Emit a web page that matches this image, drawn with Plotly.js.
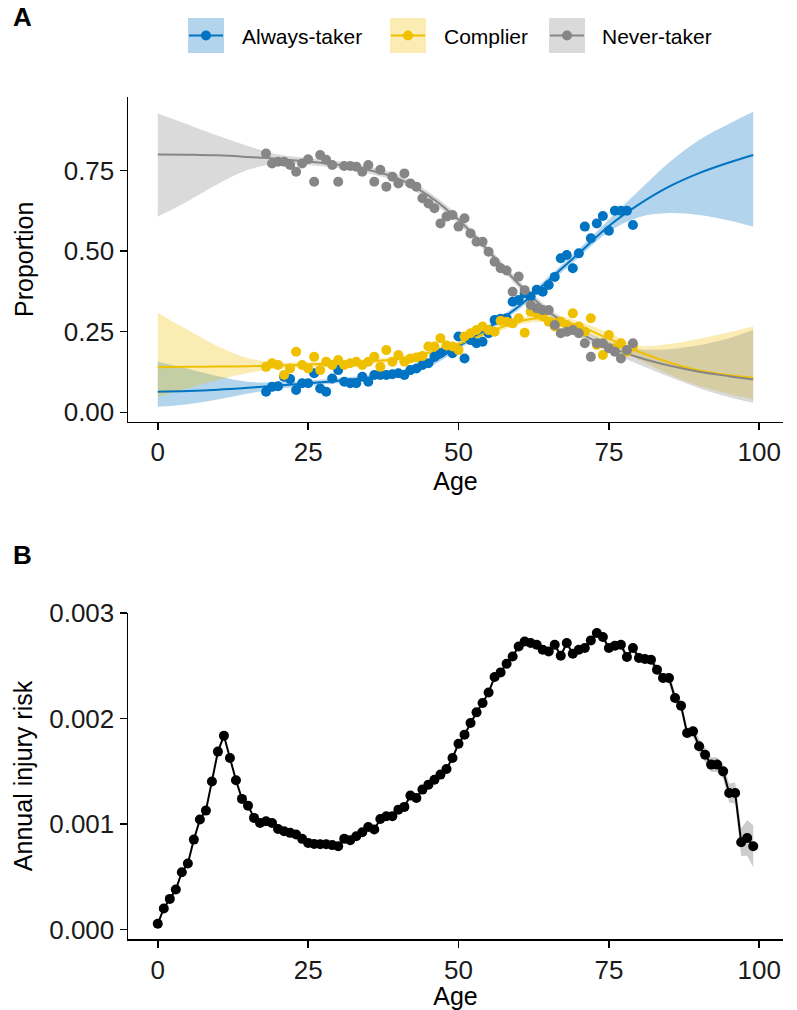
<!DOCTYPE html>
<html>
<head>
<meta charset="utf-8">
<script src="https://cdn.plot.ly/plotly-3.0.1.min.js"></script>
<style>
  html, body { margin: 0; padding: 0; background: #ffffff; }
  #chart { width: 797px; height: 1010px; }
</style>
</head>
<body>
<div id="chart"></div>
<script>
// ---------- Panel A: compliance type proportions by age ----------
const seriesNames = ['Always-taker', 'Complier', 'Never-taker'];
const seriesColors = ['#0073C2', '#EFC000', '#868686'];
const bandColors = ['rgba(0,115,194,0.3)', 'rgba(239,192,0,0.3)', 'rgba(134,134,134,0.3)'];

function ageRange(a, b) { const out = []; for (let i = a; i <= b; i++) out.push(i); return out; }

// observed proportions, ages 18–79
const obsAge = ageRange(18, 79);
const alwaysObs = [0.064,0.079,0.081,0.110,0.103,0.069,0.090,0.090,0.121,0.074,
                   0.064,0.105,0.131,0.095,0.090,0.090,0.110,0.095,0.116,0.116,
                   0.116,0.118,0.121,0.116,0.131,0.136,0.147,0.152,0.172,0.183,
                   0.199,0.183,0.235,0.167,0.224,0.214,0.219,0.245,0.286,0.290,
                   0.292,0.343,0.348,0.369,0.359,0.380,0.374,0.395,0.420,0.478,
                   0.488,0.447,0.493,0.576,0.540,0.586,0.609,0.563,0.625,0.625,
                   0.625,0.581];
const complierObs = [0.141,0.152,0.147,0.116,0.136,0.188,0.147,0.136,0.172,0.131,
                     0.157,0.147,0.162,0.147,0.152,0.157,0.147,0.157,0.172,0.141,
                     0.193,0.157,0.178,0.157,0.167,0.170,0.175,0.204,0.204,0.230,
                     0.207,0.204,0.193,0.235,0.245,0.255,0.266,0.255,0.250,0.284,
                     0.281,0.276,0.292,0.247,0.312,0.307,0.297,0.281,0.266,0.281,
                     0.271,0.307,0.266,0.250,0.292,0.209,0.178,0.240,0.199,0.214,
                     0.188,0.204];
const neverObs = [0.803,0.772,0.777,0.777,0.767,0.746,0.772,0.785,0.715,0.798,
                  0.783,0.767,0.715,0.764,0.764,0.762,0.746,0.767,0.715,0.752,
                  0.700,0.731,0.710,0.741,0.710,0.700,0.664,0.648,0.633,0.586,
                  0.607,0.612,0.576,0.602,0.555,0.529,0.529,0.498,0.467,0.447,
                  0.440,0.374,0.421,0.379,0.333,0.323,0.317,0.317,0.271,0.245,
                  0.250,0.255,0.245,0.214,0.172,0.214,0.214,0.199,0.188,0.167,
                  0.193,0.214];

// fitted curves with confidence bands, ages 0–99
const fitAge = [0,5,10,15,20,25,30,35,40,45,50,55,60,65,70,75,80,85,90,95,99];
const alwaysFit = [0.064,0.066,0.070,0.076,0.083,0.090,0.098,0.107,0.120,0.150,0.205,0.262,0.328,0.410,0.493,0.578,0.645,0.700,0.742,0.775,0.798];
const alwaysLo  = [0.017,0.025,0.040,0.058,0.073,0.082,0.090,0.099,0.111,0.140,0.195,0.252,0.318,0.399,0.480,0.560,0.605,0.618,0.612,0.595,0.576];
const alwaysHi  = [0.157,0.135,0.112,0.095,0.093,0.098,0.106,0.115,0.129,0.160,0.215,0.272,0.338,0.421,0.506,0.598,0.688,0.775,0.845,0.895,0.932];
const complierFit = [0.140,0.141,0.142,0.143,0.145,0.148,0.152,0.157,0.166,0.184,0.212,0.248,0.282,0.292,0.268,0.228,0.188,0.155,0.130,0.115,0.107];
const complierLo  = [0.048,0.075,0.100,0.122,0.135,0.140,0.144,0.150,0.158,0.175,0.203,0.238,0.272,0.280,0.254,0.210,0.163,0.118,0.082,0.057,0.040];
const complierHi  = [0.309,0.255,0.205,0.168,0.155,0.156,0.160,0.165,0.174,0.193,0.221,0.258,0.292,0.304,0.282,0.247,0.207,0.212,0.228,0.248,0.266];
const neverFit = [0.800,0.799,0.797,0.792,0.786,0.778,0.768,0.752,0.725,0.672,0.597,0.500,0.398,0.312,0.248,0.203,0.170,0.145,0.126,0.112,0.102];
const neverLo  = [0.607,0.655,0.708,0.752,0.772,0.767,0.757,0.741,0.713,0.660,0.585,0.488,0.386,0.300,0.235,0.188,0.148,0.110,0.075,0.047,0.029];
const neverHi  = [0.927,0.893,0.858,0.826,0.800,0.789,0.779,0.763,0.737,0.684,0.609,0.512,0.410,0.324,0.261,0.220,0.196,0.196,0.208,0.230,0.255];

// ---------- Panel B: annual injury risk by age ----------
const riskAge = ageRange(0, 99);
const riskVal = [0.000054,0.000199,0.000290,0.000379,0.000543,0.000625,0.000852,0.001042,0.001127,0.001402,
                 0.001686,0.001837,0.001626,0.001414,0.001238,0.001174,0.001058,0.001010,0.001026,0.001010,
                 0.000953,0.000931,0.000916,0.000900,0.000859,0.000821,0.000811,0.000808,0.000808,0.000800,
                 0.000789,0.000859,0.000846,0.000884,0.000922,0.000972,0.000947,0.001048,0.001073,0.001073,
                 0.001136,0.001162,0.001269,0.001247,0.001326,0.001373,0.001420,0.001468,0.001522,0.001626,
                 0.001761,0.001847,0.001957,0.002058,0.002147,0.002247,0.002393,0.002437,0.002519,0.002588,
                 0.002683,0.002730,0.002715,0.002699,0.002652,0.002636,0.002699,0.002595,0.002715,0.002614,
                 0.002652,0.002668,0.002740,0.002810,0.002772,0.002668,0.002689,0.002699,0.002582,0.002668,
                 0.002573,0.002563,0.002557,0.002462,0.002383,0.002383,0.002194,0.002121,0.001863,0.001878,
                 0.001736,0.001657,0.001563,0.001563,0.001499,0.001294,0.001294,0.000827,0.000868,0.000789];
// half-width of the confidence ribbon at each age
const riskCiHalf = [0.00001,0.00001,0.00001,0.00001,0.00001,0.00001,0.00001,0.00001,0.00001,0.00001,
                    0.00001,0.00001,0.00001,0.00001,0.00001,0.00001,0.00001,0.00001,0.00001,0.00001,
                    0.00001,0.00001,0.00001,0.00001,0.00001,0.00001,0.00001,0.00001,0.00001,0.00001,
                    0.00001,0.00001,0.00001,0.00001,0.00001,0.00001,0.00001,0.00001,0.00001,0.00001,
                    0.00001,0.00001,0.00001,0.00001,0.00001,0.00001,0.00001,0.00001,0.00001,0.00001,
                    0.000015,0.000015,0.000015,0.000015,0.000015,0.000015,0.000015,0.000015,0.000015,0.000015,
                    0.000015,0.000015,0.000015,0.000015,0.000015,0.00002,0.00002,0.00002,0.00002,0.00002,
                    0.00002,0.00002,0.00002,0.00002,0.00002,0.00003,0.00003,0.00003,0.00003,0.00003,
                    0.00004,0.00004,0.00004,0.00004,0.00004,0.00005,0.00005,0.00005,0.00005,0.00005,
                    0.00007,0.00007,0.00007,0.00007,0.00007,0.00009,0.00010,0.00013,0.00017,0.00020];

const riskLo = riskVal.map((v, i) => v - riskCiHalf[i]);
const riskHi = riskVal.map((v, i) => v + riskCiHalf[i]);

// ---------- traces ----------
const fits = [
  {fit: alwaysFit, lo: alwaysLo, hi: alwaysHi, obs: alwaysObs},
  {fit: complierFit, lo: complierLo, hi: complierHi, obs: complierObs},
  {fit: neverFit, lo: neverLo, hi: neverHi, obs: neverObs}
];

const data = [];
fits.forEach((s, k) => {
  data.push({x: fitAge, y: s.lo, xaxis: 'x', yaxis: 'y', mode: 'lines',
             line: {width: 0, shape: 'spline'}, hoverinfo: 'skip', showlegend: false});
  data.push({x: fitAge, y: s.hi, xaxis: 'x', yaxis: 'y', mode: 'lines', fill: 'tonexty',
             fillcolor: bandColors[k], line: {width: 0, shape: 'spline'},
             hoverinfo: 'skip', showlegend: false});
});
fits.forEach((s, k) => {
  data.push({x: fitAge, y: s.fit, xaxis: 'x', yaxis: 'y', mode: 'lines',
             line: {color: seriesColors[k], width: 2, shape: 'spline'},
             name: seriesNames[k], showlegend: false});
});
fits.forEach((s, k) => {
  data.push({x: obsAge, y: s.obs, xaxis: 'x', yaxis: 'y', mode: 'markers',
             marker: {color: seriesColors[k], size: 10}, name: seriesNames[k], showlegend: false});
});

data.push({x: riskAge, y: riskLo, xaxis: 'x2', yaxis: 'y2', mode: 'lines',
           line: {width: 0}, hoverinfo: 'skip', showlegend: false});
data.push({x: riskAge, y: riskHi, xaxis: 'x2', yaxis: 'y2', mode: 'lines', fill: 'tonexty',
           fillcolor: 'rgba(153,153,153,0.5)', line: {width: 0}, hoverinfo: 'skip', showlegend: false});
data.push({x: riskAge, y: riskVal, xaxis: 'x2', yaxis: 'y2', mode: 'lines+markers',
           line: {color: '#000000', width: 2}, marker: {color: '#000000', size: 10},
           showlegend: false});

// ---------- layout ----------
const W = 797, H = 1010, ML = 128, MR = 14, MT = 97, MB = 71;
const px = x => (x - ML) / (W - ML - MR);
const py = y => (H - MB - y) / (H - MT - MB);

const FONT = 'Liberation Sans, Arial, Helvetica, sans-serif';

function xAxis(anchor) {
  return {
    anchor: anchor, domain: [0, 1], range: [-4.95, 103.95],
    tickvals: [0, 25, 50, 75, 100], ticks: 'outside', ticklen: 7, tickwidth: 1.5, tickcolor: '#000',
    showline: true, linecolor: '#000', linewidth: 1.5, showgrid: false, zeroline: false,
    tickfont: {size: 26, color: '#1a1a1a', family: FONT},
    title: {text: 'Age', font: {size: 25, color: '#000', family: FONT}, standoff: 0}
  };
}
function yAxis(anchor, domain, range, tickvals, fmt, title, standoff) {
  return {
    anchor: anchor, domain: domain, range: range, tickvals: tickvals, tickformat: fmt,
    ticks: 'outside', ticklen: 7, tickwidth: 1.5, tickcolor: '#000',
    showline: true, linecolor: '#000', linewidth: 1.5, showgrid: false, zeroline: false,
    tickfont: {size: 26, color: '#1a1a1a', family: FONT},
    title: {text: title, font: {size: 25, color: '#000', family: FONT}, standoff: standoff}
  };
}

// legend keys: shaded box with a line and a dot, then the label
const shapes = [];
const annotations = [];
const keyLeft = [188, 390, 549];
const labelLeft = [240, 442, 600];
seriesNames.forEach((name, k) => {
  const x0 = keyLeft[k], x1 = x0 + 36, cx = (x0 + x1) / 2, cy = 35.5;
  shapes.push({type: 'rect', xref: 'paper', yref: 'paper', x0: px(x0), x1: px(x1), y0: py(53), y1: py(18),
               fillcolor: bandColors[k], line: {width: 0}});
  shapes.push({type: 'line', xref: 'paper', yref: 'paper', x0: px(x0 + 1), x1: px(x1 - 1), y0: py(cy), y1: py(cy),
               line: {color: seriesColors[k], width: 2}});
  shapes.push({type: 'circle', xref: 'paper', yref: 'paper', x0: px(cx - 5), x1: px(cx + 5), y0: py(cy + 5), y1: py(cy - 5),
               fillcolor: seriesColors[k], line: {width: 0}});
  annotations.push({text: name, xref: 'paper', yref: 'paper', x: px(labelLeft[k]), y: py(37),
                    xanchor: 'left', yanchor: 'middle', showarrow: false,
                    font: {size: 21, color: '#000', family: FONT}});
});
annotations.push({text: '<b>A</b>', xref: 'paper', yref: 'paper', x: px(11), y: py(17),
                  xanchor: 'left', yanchor: 'middle', showarrow: false, font: {size: 26, color: '#000', family: FONT}});
annotations.push({text: '<b>B</b>', xref: 'paper', yref: 'paper', x: px(11), y: py(555),
                  xanchor: 'left', yanchor: 'middle', showarrow: false, font: {size: 26, color: '#000', family: FONT}});

const layout = {
  width: W, height: H,
  margin: {l: ML, r: MR, t: MT, b: MB},
  paper_bgcolor: '#ffffff', plot_bgcolor: '#ffffff',
  font: {family: FONT, color: '#000'},
  showlegend: false,
  xaxis: xAxis('y'),
  yaxis: yAxis('x', [0.6144, 1], [-0.029, 0.978], [0, 0.25, 0.5, 0.75], '.2f', 'Proportion', 23),
  xaxis2: xAxis('y2'),
  yaxis2: yAxis('x2', [0, 0.3872], [-0.00009, 0.0030], [0, 0.001, 0.002, 0.003], '.3f', 'Annual injury risk', 9),
  shapes: shapes,
  annotations: annotations
};

Plotly.newPlot('chart', data, layout, {staticPlot: true, displayModeBar: false});
</script>
</body>
</html>
